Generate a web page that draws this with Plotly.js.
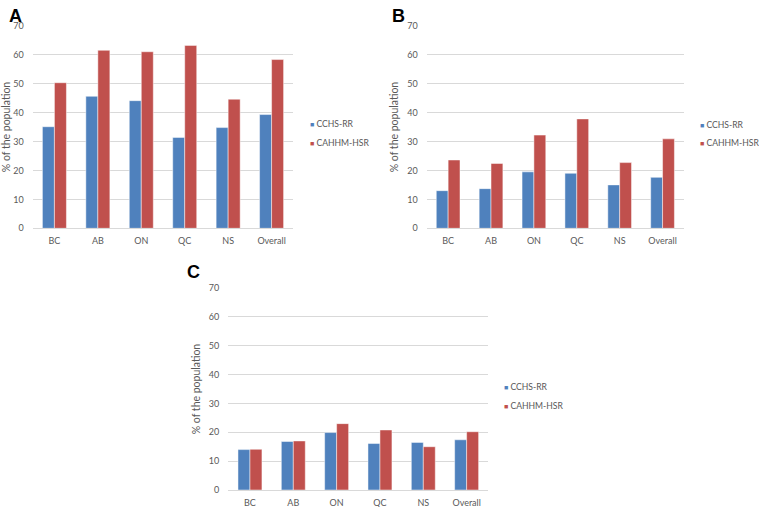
<!DOCTYPE html>
<html><head><meta charset="utf-8">
<script src="https://cdn.plot.ly/plotly-3.0.1.min.js"></script>
<style>html,body{margin:0;padding:0;background:#fff}#chart{width:759px;height:507px}</style>
</head><body><div id="chart"></div>
<script>
const categories = ['BC','AB','ON','QC','NS','Overall'];
const seriesNames = ['CCHS-RR','CAHHM-HSR'];
const panelA_cchs = [35.1, 45.6, 44.1, 31.4, 34.8, 39.3];
const panelA_cahhm = [50.3, 61.5, 61.0, 63.2, 44.6, 58.3];
const panelB_cchs = [13.0, 13.7, 19.5, 19.0, 15.0, 17.6];
const panelB_cahhm = [23.6, 22.4, 32.2, 37.8, 22.7, 30.9];
const panelC_cchs = [14.0, 16.8, 19.9, 16.1, 16.5, 17.4];
const panelC_cahhm = [14.1, 17.0, 23.0, 20.8, 15.0, 20.2];
const yTicks = [0,10,20,30,40,50,60,70];
const panelLabels = ['A','B','C'];
const yTitle = '% of the population';

const colors = ['#4F81BD','#C0504D'];
const FAM = 'Lato, Liberation Sans, sans-serif';
const panels = [[panelA_cchs,panelA_cahhm],[panelB_cchs,panelB_cahhm],[panelC_cchs,panelC_cahhm]];
const axSuffix = ['','2','3'];
const traces = [];
panels.forEach((p,i)=>{
  p.forEach((vals,j)=>{
    traces.push({
      type:'bar', x:categories, y:vals, name:seriesNames[j],
      xaxis:'x'+axSuffix[i], yaxis:'y'+axSuffix[i], showlegend:false,
      marker:{color:colors[j], line:{color:'rgba(255,255,255,0.6)', width:0.8}},
      hoverinfo:'x+y'
    });
  });
});

const W=759,H=507;
const font = {family:FAM, size:9, color:'#595959'};
function xa(x0,x1,anc){return {domain:[x0/W,x1/W], anchor:anc, showgrid:false, showline:true, linecolor:'#D9D9D9', linewidth:1, ticks:'', tickfont:font, ticklabelstandoff:4, fixedrange:true, zeroline:false};}
function ya(yTop,yBot,anc){return {domain:[1-yBot/H,1-yTop/H], anchor:anc, range:[0,70], tickvals:yTicks, showgrid:true, gridcolor:'#D9D9D9', gridwidth:1, showline:false, zeroline:false, ticks:'', tickfont:font, ticklabelstandoff:8,
  title:{text:yTitle, font:{family:FAM, size:10.5, color:'#595959'}, standoff:6}, fixedrange:true};}

const annotations = [];
const letterPos = [[7,4],[390,4],[185,260]];
panelLabels.forEach((t,i)=>annotations.push({text:'<b>'+t+'</b>', x:letterPos[i][0]/W, y:1-letterPos[i][1]/H, xref:'paper', yref:'paper', xanchor:'left', yanchor:'top', showarrow:false, font:{family:'Liberation Sans, Arial, sans-serif', size:18, color:'#000'}}));
const legPos = [[309,124.3,142.7],[699,125,142.7],[503,386.7,405.7]];
legPos.forEach(lp=>{
  seriesNames.forEach((nm,j)=>{
    annotations.push({text:'<span style="color:'+colors[j]+';font-size:7px">■</span> '+nm, x:lp[0]/W, y:1-lp[1+j]/H, xref:'paper', yref:'paper', xanchor:'left', yanchor:'middle', showarrow:false, borderpad:0, font:{family:FAM, size:8.6, color:'#595959'}});
  });
});

const layout = {
  width:W, height:H, margin:{l:0,r:0,t:0,b:0}, paper_bgcolor:'#fff', plot_bgcolor:'#fff',
  barmode:'group', bargap:0.447, bargroupgap:0, showlegend:false,
  xaxis: xa(32.7,293.3,'y'), yaxis: ya(25.7,228.3,'x'),
  xaxis2: xa(426.7,684,'y2'), yaxis2: ya(25.7,228.3,'x2'),
  xaxis3: xa(228.3,488.3,'y3'), yaxis3: ya(288,490,'x3'),
  annotations: annotations
};
Plotly.newPlot('chart', traces, layout, {displayModeBar:false, staticPlot:true});
</script></body></html>
